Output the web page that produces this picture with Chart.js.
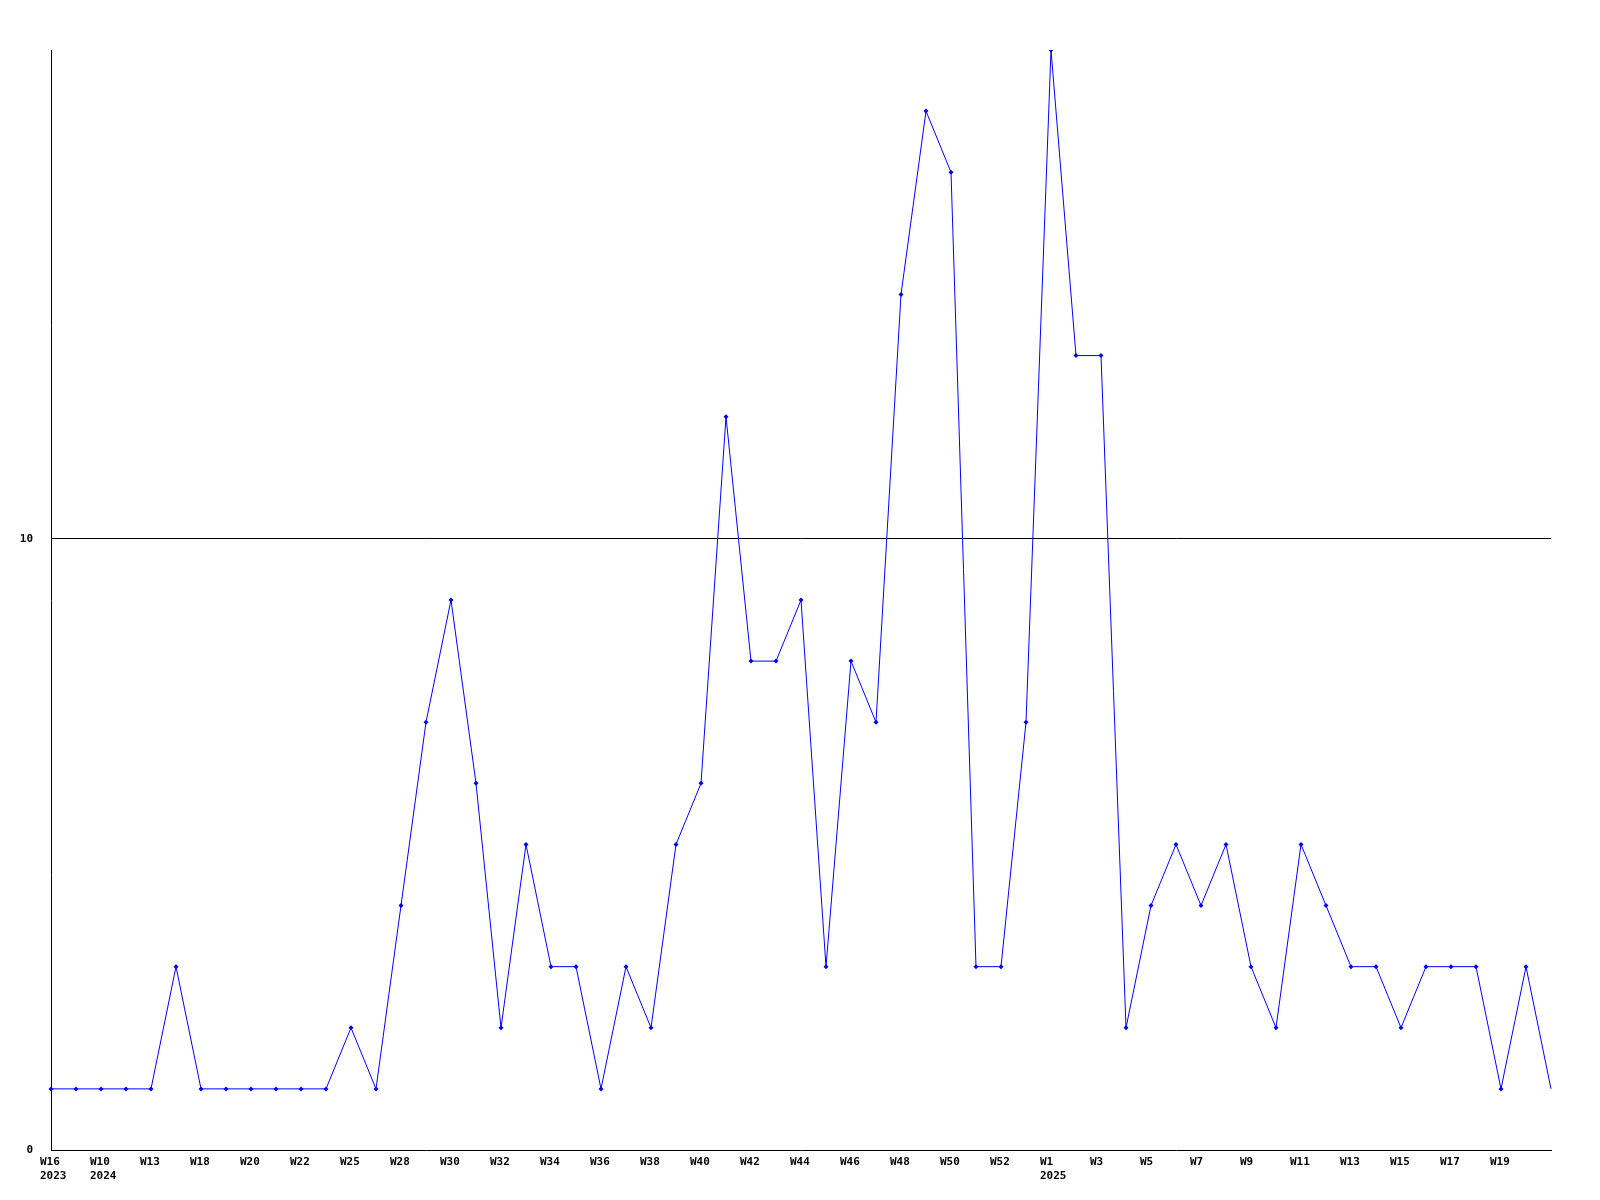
<!DOCTYPE html>
<html>
<head>
<meta charset="utf-8">
<script src="https://cdn.jsdelivr.net/npm/chart.js@4/dist/chart.umd.min.js"></script>
<style>
  body { margin: 0; background: #fff; }
  canvas { display: block; }
</style>
</head>
<body>
<canvas id="myChart" width="1600" height="1200"></canvas>
<script>
// week labels (every second one is shown on the axis)
let weeks = [
  ['W16','2023'], 'W9', ['W10','2024'], 'W11', 'W13', 'W17', 'W18', 'W19', 'W20', 'W21',
  'W22', 'W24', 'W25', 'W27', 'W28', 'W29', 'W30', 'W31', 'W32', 'W33',
  'W34', 'W35', 'W36', 'W37', 'W38', 'W39', 'W40', 'W41', 'W42', 'W43',
  'W44', 'W45', 'W46', 'W47', 'W48', 'W49', 'W50', 'W51', 'W52', 'W53',
  ['W1','2025'], 'W2', 'W3', 'W4', 'W5', 'W6', 'W7', 'W8', 'W9', 'W10',
  'W11', 'W12', 'W13', 'W14', 'W15', 'W16', 'W17', 'W18', 'W19', 'W20',
  'W21'
];
let counts = [
  1, 1, 1, 1, 1, 3, 1, 1, 1, 1,
  1, 1, 2, 1, 4, 7, 9, 6, 2, 5,
  3, 3, 1, 3, 2, 5, 6, 12, 8, 8,
  9, 3, 8, 7, 14, 17, 16, 3, 3, 7,
  18, 13, 13, 2, 4, 5, 4, 5, 3, 2,
  5, 4, 3, 3, 2, 3, 3, 3, 1, 3,
  1
];
let yTicks = [0, 10];

let tickFont = { family: 'DejaVu Sans Mono', size: 11, weight: 'bold' };

let ctx = document.getElementById('myChart').getContext('2d');
let chart1 = new Chart(ctx, {
    type: 'line',
    data: {
        labels: weeks,
        datasets: [{
            data: counts,
            borderColor: '#0000ff',
            backgroundColor: '#0000ff',
            borderWidth: 1,
            tension: 0,
            pointStyle: 'rectRot',
            pointRadius: function(c) { return c.dataIndex === counts.length - 1 ? 0 : 2.5; },
            pointBorderWidth: 0,
            pointBackgroundColor: '#0000ff'
        }]
    },
    options: {
        responsive: false,
        animation: false,
        layout: { padding: { top: 50, right: 49, left: 0, bottom: 0 } },
        plugins: {
            legend: { display: false },
            tooltip: { enabled: false }
        },
        scales: {
            x: {
                offset: false,
                grid: { display: false, drawTicks: false },
                border: { color: '#000', width: 1 },
                ticks: {
                    autoSkip: false,
                    maxRotation: 0,
                    padding: 6,
                    align: 'start',
                    labelOffset: -11,
                    color: '#000',
                    font: tickFont,
                    callback: function(val, i) {
                        if (i % 2 !== 0 || i === weeks.length - 1) return '';
                        return this.getLabelForValue(val);
                    }
                },
                afterFit: function(s) { s.height = 50; }
            },
            y: {
                min: 0,
                max: 18,
                grid: {
                    drawTicks: false,
                    color: function(c) { return c.tick.value === 10 ? '#000' : 'rgba(0,0,0,0)'; },
                    lineWidth: 1
                },
                border: { color: '#000', width: 1 },
                afterBuildTicks: function(s) {
                    s.ticks = yTicks.map(function(v) { return { value: v }; });
                },
                ticks: {
                    padding: 18,
                    color: '#000',
                    font: tickFont
                },
                afterFit: function(s) { s.width = 51; }
            }
        }
    }
});
</script>
</body>
</html>
